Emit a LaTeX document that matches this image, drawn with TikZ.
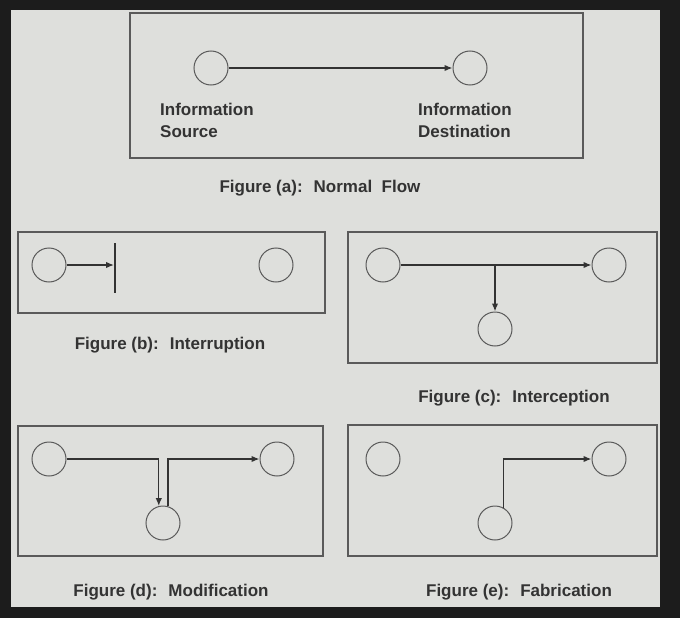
\documentclass[tikz,border=0pt]{standalone}
\usepackage{fontspec}
\setmainfont{Liberation Sans}
\usetikzlibrary{arrows.meta}
\definecolor{bg}{HTML}{DEDFDC}
\definecolor{frame}{HTML}{1C1C1C}
\definecolor{ink}{HTML}{333333}
\definecolor{boxc}{HTML}{5A5A5A}
\tikzset{
  panel/.style={draw=boxc, line width=1.5pt},
  party/.style={circle, draw=boxc, line width=1pt, minimum size=34pt, inner sep=0pt},
  arr/.style={draw=ink, line width=1.4pt, -{Latex[length=8pt,width=6.5pt]}},
  figcap/.style={anchor=base, inner sep=0pt, text=ink, font=\bfseries\fontsize{17}{22}\selectfont},
  lbl/.style={anchor=north west, inner sep=0pt, align=left, text=ink, font=\bfseries\fontsize{17}{22}\selectfont}
}
\begin{document}
\begin{tikzpicture}[x=1pt,y=-1pt]
\useasboundingbox (0,0) rectangle (680,618);
\fill[frame] (0,0) rectangle (680,618);
\fill[bg] (11,10) rectangle (660,607);

% (a) normal flow
\draw[panel] (130,13) rectangle (583,158);
\node[party] (a1) at (211,68) {};
\node[party] (a2) at (470,68) {};
\draw[arr] (a1) -- (a2);
\node[lbl] (la1) at (160,102.5) {Information\\Source};
\node[lbl] (la2) at (418,102.5) {Information\\Destination};
\node[figcap] (ca) at (320,192) {Figure (a): \ Normal \ Flow};

% (b) interruption
\draw[panel] (18,232) rectangle (325,313);
\node[party] (b1) at (49,265) {};
\node[party] (b2) at (276,265) {};
\coordinate (bt) at (115,243);
\coordinate (bb) at (115,293);
\coordinate (bm) at (114,265);
\draw[draw=ink, line width=2.2pt] (bt) -- (bb);
\draw[arr] (b1) -- (bm);
\node[figcap] (cb) at (170,349) {Figure (b): \ Interruption};

% (c) interception
\draw[panel] (348,232) rectangle (657,363);
\node[party] (c1) at (383,265) {};
\node[party] (c2) at (609,265) {};
\node[party] (c3) at (495,329) {};
\coordinate (cj) at (495,265);
\draw[arr] (c1) -- (c2);
\draw[arr] (cj) -- (c3);
\node[figcap] (cc) at (514,402) {Figure (c): \ Interception};

% (d) modification
\draw[panel] (18,426) rectangle (323,556);
\node[party] (d1) at (49,459) {};
\node[party] (d2) at (277,459) {};
\node[party] (d3) at (163,523) {};
\draw[arr] (d1) -| (d3.104);
\draw[arr] (d3.73) |- (d2);
\node[figcap] (cd) at (171,596) {Figure (d): \ Modification};

% (e) fabrication
\draw[panel] (348,425) rectangle (657,556);
\node[party] (e1) at (383,459) {};
\node[party] (e2) at (609,459) {};
\node[party] (e3) at (495,523) {};
\draw[arr] (e3.62) |- (e2);
\node[figcap] (ce) at (519,596) {Figure (e): \ Fabrication};
\end{tikzpicture}
\end{document}
